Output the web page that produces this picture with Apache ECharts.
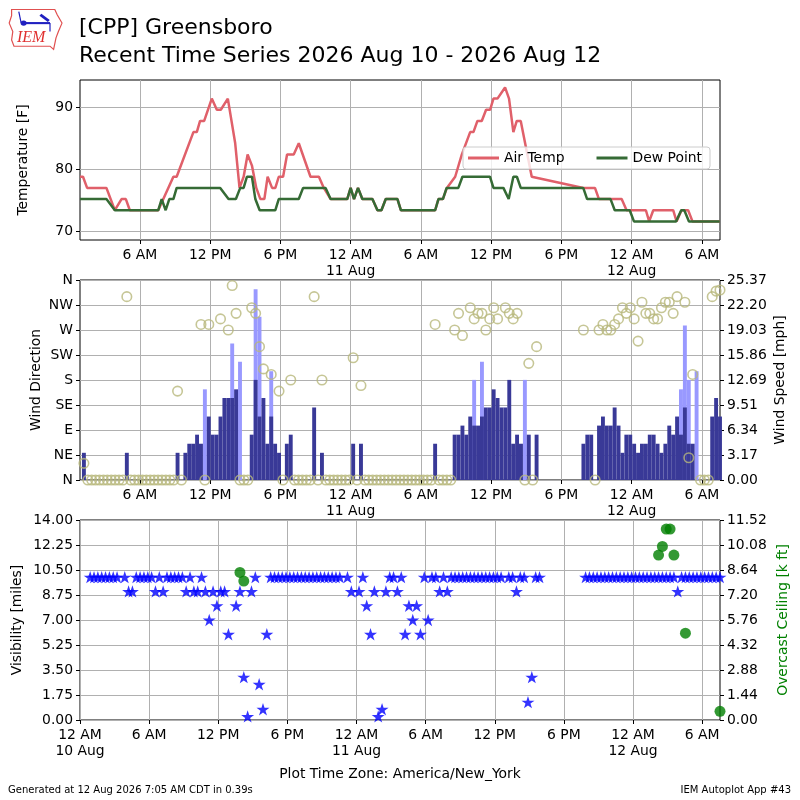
<!DOCTYPE html>
<html>
<head>
<meta charset="utf-8">
<title>[CPP] Greensboro Recent Time Series</title>
<script src="https://cdn.jsdelivr.net/npm/echarts@6.0.0/dist/echarts.min.js"></script>
<style>
  html, body { margin: 0; padding: 0; background: #fff; }
  #main { width: 800px; height: 800px; }
</style>
</head>
<body>
<div id="main"></div>
<script>
var chartDom = document.getElementById("main");
var myChart = echarts.init(chartDom);
var option;

// all times are hours after 12 AM 10 Aug (America/New_York)
const firstObsHour = 53 / 60;
const lastObsHour = 55 + 33 / 60;
const obsStep = 1 / 3; // 20 minute reports

const tickHours = [0, 6, 12, 18, 24, 30, 36, 42, 48, 54];
const tempTicks = [70, 80, 90];
const dirLabels = ["N", "NE", "E", "SE", "S", "SW", "W", "NW", "N"];

// temperature traces [F]
const airHours = [0.88, 1.14, 1.49, 3.14, 3.86, 4.43, 4.8, 5.14, 7.57, 8.0, 8.86, 9.14, 10.57, 10.86, 11.14, 11.49,
  12.14, 12.57, 12.91, 13.51, 14.14, 14.51, 14.86, 15.2, 15.57, 15.94, 16.29, 16.63, 16.91, 17.29, 17.57, 17.86,
  18.23, 18.57, 19.14, 19.57, 20.57, 21.29, 21.71, 22.29, 23.71, 24.0, 24.29, 24.63, 25.0, 25.86, 26.29, 26.63,
  27.0, 28.0, 28.29, 31.22, 31.5, 31.88, 32.22, 32.93, 33.5, 34.21, 34.49, 34.83, 35.2, 35.57, 35.91, 36.2, 36.54,
  37.19, 37.53, 37.9, 38.19, 38.53, 39.47, 43.88, 44.87, 45.21, 47.15, 47.57, 49.22, 49.5, 49.85, 51.55, 51.84,
  52.26, 52.83, 53.2, 55.53];
const airTemp = [78.8, 78.8, 77, 77, 73.4, 75.2, 75.2, 73.4, 73.4, 75.2, 78.8, 78.8, 86, 86, 87.8, 87.8,
  91.4, 89.6, 89.6, 91.4, 84.2, 77, 78.8, 82.4, 80.6, 77, 75.2, 75.2, 78.8, 77, 77, 78.8,
  78.8, 82.4, 82.4, 84.2, 78.8, 78.8, 77, 75.2, 75.2, 77, 75.2, 77, 75.2, 75.2, 73.4, 73.4,
  75.2, 75.2, 73.4, 73.4, 75.2, 75.2, 77, 78.8, 82.4, 86, 86, 87.8, 87.8, 89.6, 89.6, 91.4, 91.4,
  93.2, 91.4, 86, 87.8, 87.8, 78.8, 77, 77, 75.2, 75.2, 73.4, 73.4, 71.6, 73.4, 73.4, 71.6,
  73.4, 73.4, 71.6, 71.6];
const dewHours = [0.88, 3.14, 3.86, 7.57, 7.86, 8.2, 8.51, 8.86, 9.14, 12.86, 13.57, 14.2, 14.57, 14.86, 15.14,
  15.57, 15.86, 16.23, 17.57, 17.86, 19.57, 19.94, 21.86, 22.29, 23.71, 24.0, 24.29, 24.63, 25.0, 25.86, 26.29,
  26.63, 27.0, 28.0, 28.29, 31.22, 31.5, 31.88, 32.2, 33.2, 33.55, 35.9, 36.2, 37.05, 37.5, 37.9, 38.2, 38.53,
  43.87, 44.2, 46.2, 46.56, 47.84, 48.2, 51.8, 52.24, 52.5, 52.9, 55.53];
const dewPoint = [75.2, 75.2, 73.4, 73.4, 75.2, 73.4, 75.2, 75.2, 77, 77, 75.2, 75.2, 77, 77, 78.8,
  78.8, 75.2, 73.4, 73.4, 75.2, 75.2, 77, 77, 75.2, 75.2, 77, 75.2, 77, 75.2, 75.2, 73.4,
  73.4, 75.2, 75.2, 73.4, 73.4, 75.2, 75.2, 77, 77, 78.8, 78.8, 77, 77, 75.2, 78.8, 78.8, 77,
  77, 75.2, 75.2, 73.4, 73.4, 71.6, 71.6, 73.4, 73.4, 71.6, 71.6];

// 20 minute reports, one value per report (null = missing)
const windSpeed = [
  null, 3.45, 0, 0, 0, 0, 0, 0, 0, 0,
  0, 0, 3.45, 0, 0, 0, 0, 0, 0, 0,
  0, 0, 0, 0, 0, 3.45, 0, 3.45, 4.6, 4.6,
  5.75, 4.6, 0, 8.05, 5.75, 5.75, 8.05, 10.4, 10.4, 10.4,
  11.5, 0, 0, 0, 5.75, 12.7, 8.05, 10.4, 4.6, 8.05,
  4.6, 3.45, 0, 4.6, 5.75, 0, 0, 0, 0, 0,
  9.2, 0, 3.45, 0, 0, 0, 0, 0, 0, 0,
  4.6, 0, 4.6, 0, 0, 0, 0, 0, 0, 0,
  0, 0, 0, 0, 0, 0, 0, 0, 0, 0,
  0, 4.6, 0, 0, 0, 0, 5.75, 5.75, 6.9, 5.75,
  8.05, 6.9, 6.9, 8.05, 9.2, 9.2, 11.5, 10.4, 9.2, 9.2,
  12.7, 4.6, 5.75, 4.6, 0, 5.75, 0, 5.75, null, null,
  null, null, null, null, null, null, null, null, null, 4.6,
  5.75, 5.75, 0, 6.9, 8.05, 6.9, 6.9, 9.2, 6.9, 3.45,
  5.75, 5.75, 4.6, 3.45, 4.6, 4.6, 5.75, 5.75, 4.6, 3.45,
  4.6, 6.9, 5.75, 8.05, 5.75, 9.2, 4.6, 4.6, 0, 0,
  0, 0, 8.05, 10.4, 8.05
];
const windDir = [
  null, 30, 0, 0, 0, 0, 0, 0, 0, 0,
  0, 0, 330, 0, 0, 0, 0, 0, 0, 0,
  0, 0, 0, 0, 0, 160, 0, null, null, null,
  null, 280, 0, 280, null, null, 290, null, 270, 350,
  300, 0, 0, 0, 310, 300, 240, 200, null, 190,
  null, 160, 0, null, 180, 0, 0, 0, 0, 0,
  330, 0, 180, 0, 0, 0, 0, 0, 0, 0,
  220, 0, 170, 0, 0, 0, 0, 0, 0, 0,
  0, 0, 0, 0, 0, 0, 0, 0, 0, 0,
  0, 280, 0, 0, 0, 0, 270, 300, 260, null,
  310, 290, 300, 300, 270, 290, 310, 290, null, 310,
  300, 290, 300, null, 0, 210, 0, 240, null, null,
  null, null, null, null, null, null, null, null, null, 270,
  null, null, 0, 270, 280, 270, 270, 280, 290, 310,
  300, 310, 290, 250, 320, 300, 300, 290, 290, 310,
  320, 320, 300, 330, null, 320, 40, 190, null, 0,
  0, 0, 330, 340, 342
];
const visibility = [
  10, 10, 10, 10, 10, 10, 10, 10, null, 10,
  9, 9, 10, 10, 10, 10, 10, 9, 10, 9,
  10, 10, 10, 10, 10, 9, 10, 9, 9, 10,
  9, 7, 9, 8, 9, 9, 6, null, 8, 9,
  3, 0.25, 9, 10, 2.5, 0.75, 6, 10, 10, 10,
  10, 10, 10, 10, 10, 10, 10, 10, 10, 10,
  10, 10, 10, 10, 10, 10, null, 10, 9, null,
  9, 10, 8, 6, 9, 0.25, 0.75, 9, 10, 10,
  9, 10, 6, 8, 7, 8, 6, 10, 7, 10,
  10, 9, 10, 9, 10, 10, 10, 10, 10, 10,
  10, 10, 10, 10, 10, 10, 10, 10, null, 10,
  10, 9, 10, 10, 1.25, 3, 10, 10, null, null,
  null, null, null, null, null, null, null, null, null, 10,
  10, 10, 10, 10, 10, 10, 10, 10, 10, 10,
  10, 10, 10, 10, 10, 10, 10, 10, 10, 10,
  10, 10, 10, 9, 10, 10, 10, 10, 10, 10,
  10, 10, 10, 10, 10
];
// sparse reports: index into the 20 minute report list
const gustObs = [32, 39, 41, 45, 46, 49, 101, 103, 114, 154, 155, 156, 158];
const gustMph = [11.5, 17.3, 15.0, 24.2, 20.7, 13.8, 12.7, 15.0, 12.7, 11.5, 19.6, 12.7, 13.8];
const ceilingObs = [39, 40, 148, 149, 150, 151, 152, 155, 164];
const ceilingKft = [8.5, 8.0, 9.5, 10.0, 11.0, 11.0, 9.5, 5.0, 0.5];

const obsHours = visibility.map(function (v, i) {
  return firstObsHour + i * obsStep;
});
function pairs(hours, values) {
  return values.map(function (v, i) { return [hours[i], v]; }).filter(function (p) { return p[1] != null; });
}
function sparse(idx, values) {
  return idx.map(function (k, i) { return [obsHours[k], values[i]]; });
}

const FONT = "DejaVu Sans";
const FS = 13.9;
const GRIDLINE = { show: true, lineStyle: { color: "#b0b0b0", width: 1 } };
const barPx = (640 / (lastObsHour - firstObsHour)) * obsStep;
const starPath = "path://M50 0 L61.2 34.5 L97.6 34.5 L68.2 55.9 L79.4 90.5 L50 69.1 L20.6 90.5 L31.8 55.9 L2.4 34.5 L38.8 34.5 Z";

function hourLabel(h) {
  const r = Math.round(h);
  const hr = r % 24;
  const day = 10 + Math.floor(r / 24);
  let txt;
  if (hr === 0) txt = "12 AM";
  else if (hr < 12) txt = hr + " AM";
  else if (hr === 12) txt = "12 PM";
  else txt = hr - 12 + " PM";
  return hr === 0 ? txt + "\n" + day + " Aug" : txt;
}

function timeAxis(gridIndex, min, ticks) {
  return {
    type: "value",
    gridIndex: gridIndex,
    min: min,
    max: lastObsHour,
    axisLine: { show: false },
    axisTick: { customValues: ticks, length: 4, lineStyle: { color: "#000" } },
    axisLabel: { customValues: ticks, formatter: hourLabel, color: "#000", fontSize: FS, fontFamily: FONT, margin: 7, lineHeight: 16 },
    splitLine: GRIDLINE,
  };
}

function valueAxis(gridIndex, pos, min, max, interval, fmt, name, gap, nameColor) {
  return {
    type: "value",
    gridIndex: gridIndex,
    position: pos,
    min: min,
    max: max,
    interval: interval,
    name: name,
    nameLocation: "middle",
    nameRotate: 90,
    nameGap: gap,
    nameMoveOverlap: false,
    nameTextStyle: { color: nameColor || "#000", fontSize: FS, fontFamily: FONT },
    axisLine: { show: false },
    axisTick: { show: true, length: 4, lineStyle: { color: "#000" } },
    axisLabel: { formatter: fmt, color: "#000", fontSize: FS, fontFamily: FONT, margin: 7 },
    splitLine: pos === "left" ? GRIDLINE : { show: false },
  };
}

function fixed2(v) {
  return v.toFixed(2);
}

option = {
  animation: false,
  backgroundColor: "#ffffff",
  textStyle: { fontFamily: FONT },
  title: {
    text: "[CPP] Greensboro\nRecent Time Series 2026 Aug 10 - 2026 Aug 12",
    left: 79,
    top: 14,
    padding: 0,
    textStyle: { fontSize: 22, fontWeight: "normal", color: "#000", lineHeight: 28, fontFamily: FONT },
  },
  legend: {
    data: ["Air Temp", "Dew Point"],
    left: 463,
    top: 147,
    icon: "rect",
    itemWidth: 31,
    itemHeight: 3,
    itemGap: 32,
    padding: [4, 8, 4, 5],
    borderColor: "#cccccc",
    borderWidth: 1,
    borderRadius: 3,
    backgroundColor: "rgba(255,255,255,0.8)",
    textStyle: { fontSize: FS, color: "#000", fontFamily: FONT },
  },
  grid: [
    { left: 80, top: 80, width: 640, height: 160, show: true, borderColor: "#000", borderWidth: 1, backgroundColor: "transparent", outerBoundsMode: "none" },
    { left: 80, top: 280, width: 640, height: 200, show: true, borderColor: "#000", borderWidth: 1, backgroundColor: "transparent", outerBoundsMode: "none" },
    { left: 80, top: 520, width: 640, height: 200, show: true, borderColor: "#000", borderWidth: 1, backgroundColor: "transparent", outerBoundsMode: "none" },
  ],
  xAxis: [
    timeAxis(0, firstObsHour, tickHours.slice(1)),
    timeAxis(1, firstObsHour, tickHours.slice(1)),
    timeAxis(2, 0, tickHours),
  ],
  yAxis: [
    {
      type: "value",
      gridIndex: 0,
      min: 68.6,
      max: 94.4,
      name: "Temperature [F]",
      nameLocation: "middle",
      nameRotate: 90,
      nameGap: 50,
      nameTextStyle: { color: "#000", fontSize: FS, fontFamily: FONT },
      axisLine: { show: false },
      axisTick: { customValues: tempTicks, length: 4, lineStyle: { color: "#000" } },
      axisLabel: { customValues: tempTicks, color: "#000", fontSize: FS, fontFamily: FONT, margin: 7 },
      splitLine: GRIDLINE,
    },
    valueAxis(1, "left", 0, 360, 45, function (v) { return dirLabels[Math.round(v / 45)]; }, "Wind Direction", 37),
    valueAxis(1, "right", 0, 25.37, 25.37 / 8, fixed2, "Wind Speed [mph]", 53),
    valueAxis(2, "left", 0, 14, 1.75, fixed2, "Visibility [miles]", 56),
    valueAxis(2, "right", 0, 11.52, 1.44, fixed2, "Overcast Ceiling [k ft]", 56, "#008000"),
  ],
  series: [
    {
      name: "Air Temp",
      type: "line",
      xAxisIndex: 0,
      yAxisIndex: 0,
      data: pairs(airHours, airTemp),
      color: "#e0606a",
      showSymbol: false,
      lineStyle: { color: "#e0606a", width: 2.5 },
    },
    {
      name: "Dew Point",
      type: "line",
      xAxisIndex: 0,
      yAxisIndex: 0,
      data: pairs(dewHours, dewPoint),
      color: "#356b35",
      showSymbol: false,
      lineStyle: { color: "#356b35", width: 2.5 },
    },
    {
      name: "Wind Gust",
      type: "bar",
      xAxisIndex: 1,
      yAxisIndex: 2,
      data: sparse(gustObs, gustMph),
      barWidth: barPx,
      barGap: "-100%",
      itemStyle: { color: "#9999ff" },
    },
    {
      name: "Wind Speed",
      type: "bar",
      xAxisIndex: 1,
      yAxisIndex: 2,
      data: pairs(obsHours, windSpeed),
      barWidth: barPx,
      barGap: "-100%",
      itemStyle: { color: "#393997" },
    },
    {
      name: "Wind Direction",
      type: "scatter",
      xAxisIndex: 1,
      yAxisIndex: 1,
      data: pairs(obsHours, windDir),
      symbol: "circle",
      symbolSize: 9.5,
      itemStyle: { color: "rgba(0,0,0,0)", borderColor: "#b8b87c", borderWidth: 1.6 },
    },
    {
      name: "Visibility",
      type: "scatter",
      xAxisIndex: 2,
      yAxisIndex: 3,
      data: pairs(obsHours, visibility),
      symbol: starPath,
      symbolKeepAspect: true,
      symbolSize: 13,
      itemStyle: { color: "#0000ff" },
    },
    {
      name: "Overcast Ceiling",
      type: "scatter",
      xAxisIndex: 2,
      yAxisIndex: 4,
      data: sparse(ceilingObs, ceilingKft),
      symbol: "circle",
      symbolSize: 11,
      itemStyle: { color: "#008000" },
    },
  ],
  graphic: [
    {
      type: "group",
      x: 2,
      y: 0,
      scaleX: 1.2,
      scaleY: 1.05,
      children: [
        {
          type: "polygon",
          shape: { points: [[8, 9], [44, 9], [46, 14], [50, 22], [47, 30], [45, 36], [43, 47], [40, 44], [10, 44], [8, 38], [9, 30], [6, 22], [8, 15]] },
          style: { fill: "#ffffff", stroke: "#e05050", lineWidth: 1 },
        },
        { type: "line", shape: { x1: 16, y1: 22, x2: 40, y2: 22 }, style: { stroke: "#2020c0", lineWidth: 2 } },
        { type: "line", shape: { x1: 14, y1: 11, x2: 16, y2: 22 }, style: { stroke: "#2020c0", lineWidth: 1 } },
        { type: "line", shape: { x1: 32, y1: 14, x2: 39, y2: 20 }, style: { stroke: "#2020c0", lineWidth: 2.5 } },
        { type: "line", shape: { x1: 40, y1: 22, x2: 40, y2: 30 }, style: { stroke: "#2020c0", lineWidth: 1 } },
        { type: "circle", shape: { cx: 18, cy: 22, r: 2.5 }, style: { fill: "#2020c0" } },
      ],
    },
    {
      type: "text",
      left: 17,
      top: 30,
      style: { text: "IEM", fill: "#e03030", font: "italic 16px 'Liberation Serif'" },
    },
    {
      type: "text",
      left: "center",
      top: 767,
      style: { text: "Plot Time Zone: America/New_York", fill: "#000", font: "13.9px 'DejaVu Sans'" },
    },
    {
      type: "text",
      left: 8,
      top: 785,
      style: { text: "Generated at 12 Aug 2026 7:05 AM CDT in 0.39s", fill: "#000", font: "10px 'DejaVu Sans'" },
    },
    {
      type: "text",
      right: 9,
      top: 785,
      style: { text: "IEM Autoplot App #43", fill: "#000", font: "10px 'DejaVu Sans'" },
    },
  ],
};

option && myChart.setOption(option);
</script>
</body>
</html>
